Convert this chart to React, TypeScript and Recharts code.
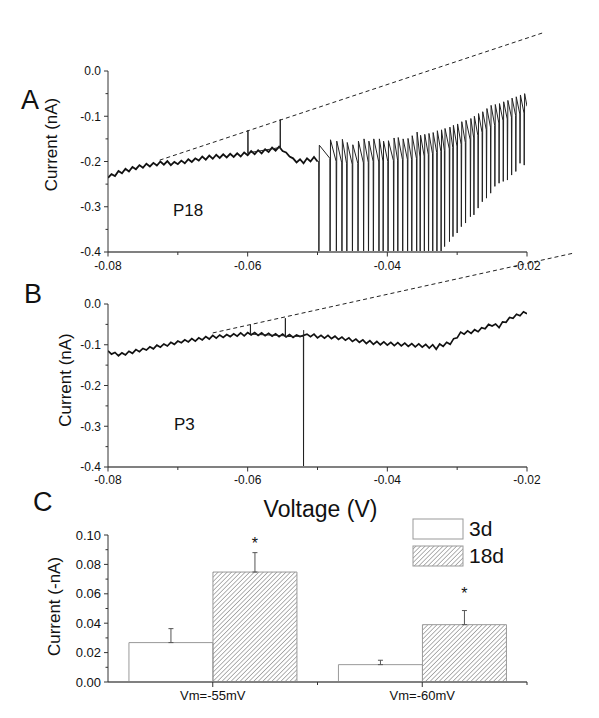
import { LineChart, Line, XAxis, YAxis, ReferenceLine, BarChart, Bar, ErrorBar, LabelList, Legend } from 'recharts';

// ---- Panel A (P18): current trace ----
// [voltage (V), current (nA)]
const baseA: [number, number][] = [
  [-0.08, -0.236], [-0.0795, -0.228], [-0.079, -0.232], [-0.0785, -0.221], [-0.078, -0.226],
  [-0.0775, -0.216], [-0.077, -0.222], [-0.0765, -0.212], [-0.076, -0.217], [-0.0755, -0.208],
  [-0.075, -0.214], [-0.0745, -0.205], [-0.074, -0.211], [-0.0735, -0.203], [-0.073, -0.209],
  [-0.0725, -0.200], [-0.072, -0.207], [-0.0715, -0.199], [-0.071, -0.208], [-0.0705, -0.201],
  [-0.07, -0.206], [-0.0695, -0.198], [-0.069, -0.204], [-0.0685, -0.195], [-0.068, -0.201],
  [-0.0675, -0.193], [-0.067, -0.198], [-0.0665, -0.189], [-0.066, -0.196], [-0.0655, -0.187],
  [-0.065, -0.194], [-0.0645, -0.185], [-0.064, -0.192], [-0.0635, -0.184], [-0.063, -0.191],
  [-0.0625, -0.183], [-0.062, -0.190], [-0.0615, -0.182], [-0.061, -0.189], [-0.0605, -0.180],
  [-0.06, -0.186], [-0.0595, -0.177], [-0.059, -0.184], [-0.0585, -0.175], [-0.058, -0.182],
  [-0.0575, -0.173], [-0.057, -0.179], [-0.0565, -0.169], [-0.056, -0.176], [-0.0555, -0.167],
  [-0.055, -0.177], [-0.0545, -0.180], [-0.054, -0.189], [-0.0535, -0.193], [-0.053, -0.202],
  [-0.0525, -0.195], [-0.052, -0.204], [-0.0515, -0.193], [-0.051, -0.200], [-0.0505, -0.190],
  [-0.05, -0.200],
];
// thin spikes: [voltage, before, extreme, after]
const eventsA: [number, number, number, number][] = [
  [-0.05996, -0.183, -0.131, -0.181],
  [-0.05533, -0.169, -0.107, -0.172],
];
// spike train after -0.05 V
const spikeV = [
  -0.0498, -0.0482, -0.0473, -0.0465, -0.0458, -0.045, -0.0442, -0.0434, -0.0427, -0.042,
  -0.0412, -0.0406, -0.0399, -0.0391, -0.0385, -0.0378, -0.0371, -0.0365, -0.0358, -0.0353,
  -0.0347, -0.0341, -0.0335, -0.0329, -0.0323, -0.0318, -0.0311, -0.0306, -0.03, -0.0294,
  -0.0288, -0.0281, -0.0276, -0.027, -0.0264, -0.0258, -0.0252, -0.0246, -0.024, -0.0234,
  -0.0228, -0.0222, -0.0216, -0.021, -0.0204,
];
const spikePre = [
  -0.200, -0.193, -0.200, -0.203, -0.205, -0.206, -0.204, -0.203, -0.202, -0.200,
  -0.201, -0.199, -0.200, -0.198, -0.197, -0.196, -0.195, -0.195, -0.193, -0.190,
  -0.188, -0.185, -0.183, -0.180, -0.178, -0.176, -0.172, -0.169, -0.166, -0.162,
  -0.158, -0.152, -0.148, -0.143, -0.136, -0.130, -0.124, -0.120, -0.115, -0.110,
  -0.106, -0.102, -0.098, -0.095, -0.093,
];
const spikeLow = [
  -0.45, -0.45, -0.45, -0.45, -0.45, -0.45, -0.45, -0.45, -0.45, -0.45,
  -0.45, -0.45, -0.45, -0.45, -0.45, -0.45, -0.45, -0.45, -0.45, -0.45,
  -0.45, -0.45, -0.45, -0.45, -0.42, -0.388, -0.377, -0.366, -0.358, -0.344,
  -0.336, -0.322, -0.318, -0.303, -0.289, -0.281, -0.270, -0.255, -0.248, -0.244,
  -0.241, -0.230, -0.222, -0.204, -0.208,
];
const spikePeak = [
  -0.164, -0.152, -0.155, -0.151, -0.158, -0.163, -0.155, -0.150, -0.155, -0.150,
  -0.150, -0.155, -0.154, -0.148, -0.147, -0.150, -0.149, -0.143, -0.135, -0.142,
  -0.140, -0.138, -0.136, -0.132, -0.130, -0.127, -0.124, -0.120, -0.117, -0.112,
  -0.109, -0.105, -0.100, -0.094, -0.090, -0.083, -0.076, -0.074, -0.072, -0.068,
  -0.065, -0.060, -0.057, -0.053, -0.050,
];
const tailA: [number, number][] = [[-0.02, -0.078]];
const dashA = [{ x: -0.0726, y: -0.197 }, { x: -0.0176, y: 0.085 }];

// ---- Panel B (P3) ----
const baseB: [number, number][] = [
  [-0.08, -0.115], [-0.0795, -0.123], [-0.079, -0.119], [-0.0785, -0.127], [-0.078, -0.120],
  [-0.0775, -0.125], [-0.077, -0.116], [-0.0765, -0.121], [-0.076, -0.112], [-0.0755, -0.117],
  [-0.075, -0.109], [-0.0745, -0.113], [-0.074, -0.105], [-0.0735, -0.110], [-0.073, -0.101],
  [-0.0725, -0.106], [-0.072, -0.098], [-0.0715, -0.103], [-0.071, -0.094], [-0.0705, -0.099],
  [-0.07, -0.091], [-0.0695, -0.095], [-0.069, -0.088], [-0.0685, -0.093], [-0.068, -0.085],
  [-0.0675, -0.091], [-0.067, -0.083], [-0.0665, -0.088], [-0.066, -0.080], [-0.0655, -0.086],
  [-0.065, -0.077], [-0.0645, -0.084], [-0.064, -0.076], [-0.0635, -0.082], [-0.063, -0.075],
  [-0.0625, -0.080], [-0.062, -0.073], [-0.0615, -0.079], [-0.061, -0.071], [-0.0605, -0.078],
  [-0.06, -0.070], [-0.0595, -0.076], [-0.059, -0.070], [-0.0585, -0.077], [-0.058, -0.071],
  [-0.0575, -0.078], [-0.057, -0.072], [-0.0565, -0.079], [-0.056, -0.073], [-0.0555, -0.080],
  [-0.055, -0.074], [-0.0545, -0.081], [-0.054, -0.075], [-0.0535, -0.082], [-0.053, -0.076],
  [-0.0525, -0.080], [-0.0515, -0.074], [-0.051, -0.080], [-0.0505, -0.074], [-0.05, -0.083],
  [-0.0495, -0.077], [-0.049, -0.084], [-0.0485, -0.077], [-0.048, -0.085], [-0.0475, -0.079],
  [-0.047, -0.087], [-0.0465, -0.081], [-0.046, -0.089], [-0.0455, -0.083], [-0.045, -0.092],
  [-0.0445, -0.086], [-0.044, -0.094], [-0.0435, -0.088], [-0.043, -0.097], [-0.0425, -0.090],
  [-0.042, -0.099], [-0.0415, -0.092], [-0.041, -0.100], [-0.0405, -0.093], [-0.04, -0.101],
  [-0.0395, -0.094], [-0.039, -0.102], [-0.0385, -0.095], [-0.038, -0.103], [-0.0375, -0.096],
  [-0.037, -0.104], [-0.0365, -0.097], [-0.036, -0.105], [-0.0355, -0.098], [-0.035, -0.106],
  [-0.0345, -0.099], [-0.034, -0.108], [-0.0335, -0.100], [-0.033, -0.111], [-0.0325, -0.098],
  [-0.032, -0.104], [-0.0315, -0.094], [-0.031, -0.099], [-0.0305, -0.085], [-0.03, -0.083],
  [-0.0295, -0.069], [-0.029, -0.074], [-0.0285, -0.066], [-0.028, -0.072], [-0.0275, -0.063],
  [-0.027, -0.068], [-0.0265, -0.058], [-0.026, -0.061], [-0.0255, -0.050], [-0.025, -0.054],
  [-0.0245, -0.049], [-0.024, -0.058], [-0.0235, -0.044], [-0.023, -0.045], [-0.0225, -0.033],
  [-0.022, -0.035], [-0.0215, -0.025], [-0.021, -0.029], [-0.0205, -0.019], [-0.02, -0.024],
];
const eventsB: [number, number, number, number][] = [
  [-0.0596, -0.071, -0.051, -0.074],
  [-0.0546, -0.078, -0.035, -0.080],
  [-0.052, -0.079, -0.45, -0.064],
];
const dashB = [{ x: -0.065, y: -0.071 }, { x: -0.0133, y: 0.125 }];

const ivTicksX = [-0.08, -0.07, -0.06, -0.05, -0.04, -0.03, -0.02];
const ivTicksY = [-0.4, -0.35, -0.3, -0.25, -0.2, -0.15, -0.1, -0.05, 0];

// ---- Panel C ----
const categories = ['Vm=-55mV', 'Vm=-60mV'];
const seriesNames = ['3d', '18d'];
const mean3d = [0.0268, 0.0118];
const err3d = [0.0095, 0.003];
const mean18d = [0.0748, 0.039];
const err18d = [0.0132, 0.0096];
const starLevel = [0.097, 0.063];
const barTicksY = [0, 0.01, 0.02, 0.03, 0.04, 0.05, 0.06, 0.07, 0.08, 0.09, 0.1];

// base points go to key 'base' (thick noisy trace); short spikes go to key 'ev' (thin)
function buildTrace(base: [number, number][], events: [number, number, number, number][]) {
  const pts: { v: number; base?: number; ev?: number }[] = base.map(([v, i]) => ({ v, base: i }));
  events.forEach(([v, before, ext, after]) => {
    pts.push({ v: v - 0.00002, ev: before }, { v, ev: ext }, { v: v + 0.00002, ev: after });
  });
  return pts.sort((a, b) => a.v - b.v);
}

const lastBase = baseA[baseA.length - 1];
const dataA = [
  ...buildTrace(baseA, eventsA),
  { v: lastBase[0] + 0.00001, train: lastBase[1] },
  ...spikeV.flatMap((v, k) => [
    { v: v - 0.00003, train: spikePre[k] },
    { v, train: spikeLow[k] },
    { v: v + 0.00006, train: spikePeak[k] },
  ]),
  ...tailA.map(([v, i]) => ({ v, train: i })),
];
const dataB = buildTrace(baseB, eventsB);

const dataC = categories.map((cat, k) => ({
  cat,
  d3: mean3d[k],
  e3: [0, err3d[k]],
  d18: mean18d[k],
  e18: [0, err18d[k]],
  star: starLevel[k],
}));

const TS = 4;
const TM = 4;
const FONT = '"Liberation Sans", Arial, sans-serif';

function isMajor(v: number, step: number) {
  return Math.abs(v / step - Math.round(v / step)) < 1e-6;
}

function YTick(props: any) {
  const { x, y, payload, digits, step, fs } = props;
  const axisX = x + TS + TM;
  const major = isMajor(payload.value, step);
  return (
    <g>
      <line x1={axisX - (major ? 4 : 2.5)} x2={axisX} y1={y} y2={y} stroke="#333" />
      {major && (
        <text x={axisX - 7} y={y} dy="0.36em" textAnchor="end" fontSize={fs} fill="#111">
          {payload.value.toFixed(digits)}
        </text>
      )}
    </g>
  );
}

function XTick(props: any) {
  const { x, y, payload, labelDy } = props;
  const axisY = y - TS - TM;
  const major = isMajor(payload.value, 0.02);
  return (
    <g>
      <line x1={x} x2={x} y1={axisY} y2={axisY + (major ? 4.5 : 3)} stroke="#333" />
      {major && (
        <text x={x} y={axisY + labelDy} textAnchor="middle" fontSize={12} fill="#111">
          {payload.value.toFixed(2)}
        </text>
      )}
    </g>
  );
}

function CatTick(props: any) {
  const { x, y, payload } = props;
  const axisY = y - TS - TM;
  const off = payload.offset || 0;
  return (
    <g>
      <line x1={x} x2={x} y1={axisY} y2={axisY + 5} stroke="#333" />
      {off > 0 && <line x1={x + off} x2={x + off} y1={axisY} y2={axisY + 3} stroke="#333" />}
      <text x={x} y={axisY + 18} textAnchor="middle" fontSize={13} fill="#111">
        {payload.value}
      </text>
    </g>
  );
}

function Star(props: any) {
  const { x, y, width, height, value, index } = props;
  const perUnit = height / mean18d[index];
  const cy = y + height - value * perUnit;
  return (
    <text x={x + width / 2} y={cy + 9.5} textAnchor="middle" fontSize={16} fill="#111">
      *
    </text>
  );
}

function HatchDef({ id }: { id: string }) {
  return (
    <defs>
      <pattern id={id} width="3.2" height="3.2" patternUnits="userSpaceOnUse" patternTransform="rotate(45)">
        <line x1="0" y1="0" x2="0" y2="3.2" stroke="#555" strokeWidth="0.9" />
      </pattern>
    </defs>
  );
}

function LegendBox() {
  return (
    <div style={{ fontFamily: FONT }}>
      {seriesNames.map((name, k) => (
        <div key={name} style={{ display: 'flex', alignItems: 'center', height: 27 }}>
          <svg width={52} height={22} style={{ display: 'block' }}>
            <HatchDef id="hatchLegend" />
            <rect x={1} y={1} width={50} height={20} fill={k === 0 ? '#fff' : 'url(#hatchLegend)'} stroke="#999" />
          </svg>
          <span style={{ fontSize: 21, marginLeft: 5, color: '#111', lineHeight: '22px' }}>{name}</span>
        </div>
      ))}
    </div>
  );
}

const ivYAxis = (
  <YAxis
    type="number"
    domain={[-0.4, 0]}
    ticks={ivTicksY}
    interval={0}
    allowDataOverflow
    width={60}
    tickSize={TS}
    tickMargin={TM}
    tickLine={false}
    axisLine={{ stroke: '#333' }}
    tick={(p: any) => <YTick {...p} digits={1} step={0.1} fs={12} />}
  />
);

function ivXAxis(labelDy: number) {
  return (
    <XAxis
      type="number"
      dataKey="v"
      domain={[-0.08, -0.02]}
      ticks={ivTicksX}
      interval={0}
      allowDataOverflow
      height={20}
      tickSize={TS}
      tickMargin={TM}
      tickLine={false}
      axisLine={{ stroke: '#808080', strokeWidth: 2 }}
      tick={(p: any) => <XTick {...p} labelDy={labelDy} />}
    />
  );
}

export default function App() {
  return (
    <div style={{ position: 'absolute', left: 0, top: 0, width: 599, height: 718, background: '#fff', fontFamily: FONT }}>
      <div style={{ position: 'absolute', left: 0, top: 0 }}>
        <LineChart width={599} height={280} data={dataA} margin={{ top: 71, right: 72, bottom: 8, left: 48 }}>
          {ivXAxis(18)}
          {ivYAxis}
          <ReferenceLine segment={dashA} ifOverflow="visible" stroke="#222" strokeDasharray="4 3" />
          <Line type="linear" dataKey="base" stroke="#111" strokeWidth={1.8} dot={false} connectNulls isAnimationActive={false} />
          <Line type="linear" dataKey="ev" stroke="#222" strokeWidth={1} dot={false} connectNulls isAnimationActive={false} />
          <Line type="linear" dataKey="train" stroke="#222" strokeWidth={1} dot={false} isAnimationActive={false} />
        </LineChart>
      </div>
      <div style={{ position: 'absolute', left: 0, top: 245 }}>
        <LineChart width={599} height={250} data={dataB} margin={{ top: 59, right: 72, bottom: 8, left: 48 }}>
          {ivXAxis(17)}
          {ivYAxis}
          <ReferenceLine segment={dashB} ifOverflow="visible" stroke="#222" strokeDasharray="4 3" />
          <Line type="linear" dataKey="base" stroke="#111" strokeWidth={1.7} dot={false} connectNulls isAnimationActive={false} />
          <Line type="linear" dataKey="ev" stroke="#222" strokeWidth={1} dot={false} connectNulls isAnimationActive={false} />
        </LineChart>
      </div>
      <div style={{ position: 'absolute', left: 0, top: 500 }}>
        <BarChart
          width={599}
          height={218}
          data={dataC}
          margin={{ top: 35, right: 72, bottom: 6, left: 48 }}
          barCategoryGap="10%"
          barGap={0}
        >
          <HatchDef id="hatch" />
          <XAxis
            dataKey="cat"
            height={30}
            tickSize={TS}
            tickMargin={TM}
            tickLine={false}
            interval={0}
            axisLine={{ stroke: '#808080', strokeWidth: 2 }}
            tick={(p: any) => <CatTick {...p} />}
          />
          <YAxis
            type="number"
            domain={[0, 0.1]}
            ticks={barTicksY}
            interval={0}
            width={60}
            tickSize={TS}
            tickMargin={TM}
            tickLine={false}
            axisLine={{ stroke: '#333' }}
            tick={(p: any) => <YTick {...p} digits={2} step={0.02} fs={13} />}
          />
          <Legend
            layout="horizontal"
            verticalAlign="middle"
            align="center"
            wrapperStyle={{ left: 412, top: 15, width: 120 }}
            content={() => <LegendBox />}
          />
          <Bar dataKey="d3" name={seriesNames[0]} fill="#fff" stroke="#999" isAnimationActive={false}>
            <ErrorBar dataKey="e3" width={2.5} stroke="#555" strokeWidth={1} />
          </Bar>
          <Bar dataKey="d18" name={seriesNames[1]} fill="url(#hatch)" stroke="#999" isAnimationActive={false}>
            <ErrorBar dataKey="e18" width={2.5} stroke="#555" strokeWidth={1} />
            <LabelList dataKey="star" content={(p: any) => <Star {...p} />} />
          </Bar>
        </BarChart>
      </div>
      <svg width={599} height={718} style={{ position: 'absolute', left: 0, top: 0, pointerEvents: 'none' }}>
        <g fill="#111" fontFamily={FONT}>
          <text x={21} y={109} fontSize={27}>A</text>
          <text x={24} y={303} fontSize={27}>B</text>
          <text x={33} y={511} fontSize={27}>C</text>
          <text transform="translate(57,144.5) rotate(-90)" textAnchor="middle" fontSize={17}>Current (nA)</text>
          <text transform="translate(71,380) rotate(-90)" textAnchor="middle" fontSize={17}>Current (nA)</text>
          <text transform="translate(60,606.5) rotate(-90)" textAnchor="middle" fontSize={17}>Current (-nA)</text>
          <text x={173} y={216} fontSize={17}>P18</text>
          <text x={174} y={430} fontSize={17}>P3</text>
          <text x={320.5} y={517} textAnchor="middle" fontSize={23}>Voltage (V)</text>
        </g>
      </svg>
    </div>
  );
}
